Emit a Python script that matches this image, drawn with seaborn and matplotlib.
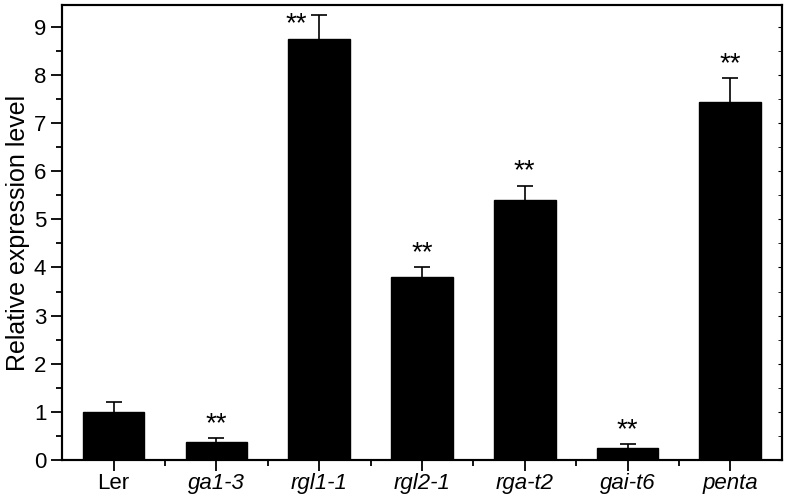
import matplotlib
matplotlib.use("Agg")
import matplotlib.pyplot as plt
import seaborn as sns
import pandas as pd
import numpy as np
from matplotlib.ticker import MultipleLocator

# values
genotypes = ["Ler", "ga1-3", "rgl1-1", "rgl2-1", "rga-t2", "gai-t6", "penta"]
expression = [1.0, 0.37, 8.75, 3.8, 5.4, 0.25, 7.44]
sem = [0.2, 0.09, 0.5, 0.2, 0.3, 0.08, 0.5]
significant = [False, True, True, True, True, True, True]

df = pd.DataFrame({"Genotype": genotypes, "Expression": expression, "SEM": sem})

sns.set_style("ticks", {"axes.edgecolor": "black", "text.color": "black",
                        "axes.labelcolor": "black", "xtick.color": "black",
                        "ytick.color": "black"})
plt.rcParams["font.family"] = ["Liberation Sans", "DejaVu Sans"]

fig = plt.figure(figsize=(7.88, 4.98), dpi=100)
ax = fig.add_axes([0.079, 0.076, 0.913, 0.914])

sns.barplot(data=df, x="Genotype", y="Expression", color="black",
            saturation=1, width=0.6, errorbar=None, ax=ax)
for p in ax.patches:
    p.set_edgecolor("black")

x = np.arange(len(genotypes))
_, caps, _ = ax.errorbar(x, df["Expression"], yerr=[np.zeros(len(sem)), df["SEM"]],
                         fmt="none", ecolor="black", elinewidth=1.2,
                         capsize=6, capthick=1.2)
# only the upper half of the error bar is shown
caps[0].set_visible(False)

# significance stars
for i, (v, e, s) in enumerate(zip(expression, sem, significant)):
    if not s:
        continue
    top = v + e
    if top > 9.0:
        ax.text(i - 0.22, 8.78, "**", ha="center", va="bottom", fontsize=20)
    else:
        ax.text(i, top + 0.02, "**", ha="center", va="bottom", fontsize=20)

ax.set_xlim(-0.5, 6.5)
ax.set_ylim(0, 9.45)
ax.yaxis.set_major_locator(MultipleLocator(1))
ax.yaxis.set_minor_locator(MultipleLocator(0.5))
ax.set_xticks(x)
ax.set_xticks(x[:-1] + 0.5, minor=True)

labels = ax.set_xticklabels(genotypes)
for lab in labels[1:]:
    lab.set_fontstyle("italic")

ax.tick_params(axis="both", which="major", labelsize=16, length=8, width=1.3, direction="out")
ax.tick_params(axis="both", which="minor", length=4, width=1.3, direction="out")
ax.tick_params(axis="x", which="major", pad=1)
ax.set_xlabel("")
ax.set_ylabel("Relative expression level", fontsize=18, labelpad=3)

# right axis with small inward ticks
ax2 = ax.twinx()
ax2.set_ylim(ax.get_ylim())
ax2.yaxis.set_major_locator(MultipleLocator(1))
ax2.yaxis.set_minor_locator(MultipleLocator(0.5))
ax2.tick_params(axis="y", which="both", direction="in", length=3, labelright=False)

for spine in ax.spines.values():
    spine.set_visible(True)
    spine.set_linewidth(1.5)
for spine in ax2.spines.values():
    spine.set_linewidth(1.5)

plt.savefig("out.png", dpi=100)
